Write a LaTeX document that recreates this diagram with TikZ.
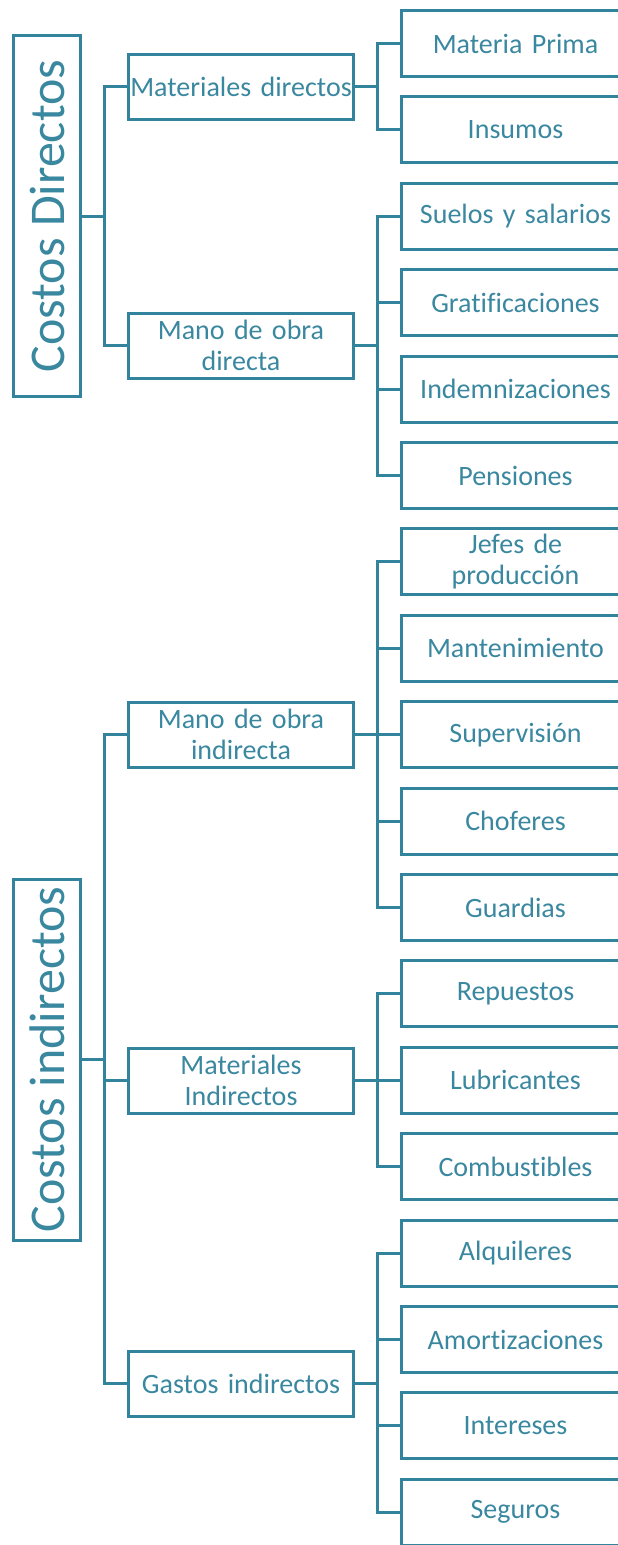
\documentclass[tikz,border=0pt]{standalone}
\usepackage{fontspec}
\setmainfont{Carlito}[Ligatures={NoCommon}]
\definecolor{tealc}{HTML}{31849B}
\definecolor{textc}{HTML}{3A87A0}
\tikzset{
  lvone/.style={draw=tealc, line width=3pt, rotate=90, minimum width=361pt, minimum height=67pt, inner sep=0pt, text=textc, font=\fontsize{50}{55}\selectfont},
  lvtwo/.style={draw=tealc, line width=3pt, minimum width=225pt, minimum height=65pt, inner sep=0pt, text width=222pt, align=center, text=textc, font=\fontsize{28}{31}\selectfont},
  lvthree/.style={draw=tealc, line width=3pt, minimum width=229pt, minimum height=66pt, inner sep=0pt, text width=226pt, align=center, text=textc, font=\fontsize{28}{31}\selectfont},
  conn/.style={draw=tealc, line width=3pt}
}
\begin{document}
\begin{tikzpicture}[x=1pt,y=-1pt]
\clip (0,0) rectangle (618,1545);
% level 1
\node[lvone] (cd) at (47,216) {Costos Directos};
\node[lvone] (ci) at (47,1059.5) {Costos indirectos};
% level 2
\node[lvtwo] (md) at (241,86.5) {Materiales directos};
\node[lvtwo] (mod) at (241,345.5) {Mano de obra\\directa};
\node[lvtwo] (moi) at (241,734.5) {Mano de obra\\indirecta};
\node[lvtwo] (mi) at (241,1080.5) {Materiales\\Indirectos};
\node[lvtwo] (gi) at (241,1383.5) {Gastos indirectos};
% level 3
\node[lvthree] (a1) at (515.5,43.5) {Materia Prima};
\node[lvthree] (a2) at (515.5,129.9) {Insumos};
\node[lvthree] (b1) at (515.5,216.3) {Suelos y salarios};
\node[lvthree] (b2) at (515.5,302.7) {Gratificaciones};
\node[lvthree] (b3) at (515.5,389.1) {Indemnizaciones};
\node[lvthree] (b4) at (515.5,475.5) {Pensiones};
\node[lvthree] (c1) at (515.5,561.9) {Jefes de\\producción};
\node[lvthree] (c2) at (515.5,648.3) {Mantenimiento};
\node[lvthree] (c3) at (515.5,734.7) {Supervisión};
\node[lvthree] (c4) at (515.5,821.1) {Choferes};
\node[lvthree] (c5) at (515.5,907.5) {Guardias};
\node[lvthree] (d1) at (515.5,993.9) {Repuestos};
\node[lvthree] (d2) at (515.5,1080.3) {Lubricantes};
\node[lvthree] (d3) at (515.5,1166.7) {Combustibles};
\node[lvthree] (e1) at (515.5,1253.1) {Alquileres};
\node[lvthree] (e2) at (515.5,1339.5) {Amortizaciones};
\node[lvthree] (e3) at (515.5,1425.9) {Intereses};
\node[lvthree] (e4) at (515.5,1512.3) {Seguros};
% level 1 -> level 2
\draw[conn] (cd.south) -- ++(24,0);
\draw[conn] (md.west) -- ++(-23,0) |- (mod.west);
\draw[conn] (ci.south) -- ++(24,0);
\draw[conn] (moi.west) -- ++(-23,0) |- (gi.west);
\draw[conn] (mi.west) -- ++(-23,0);
% level 2 -> level 3
\draw[conn] (md.east) -- ++(23,0);
\draw[conn] (a1.west) -- ++(-22,0) |- (a2.west);
\draw[conn] (mod.east) -- ++(23,0);
\draw[conn] (b1.west) -- ++(-22,0) |- (b4.west);
\draw[conn] (b2.west) -- ++(-22,0);
\draw[conn] (b3.west) -- ++(-22,0);
\draw[conn] (moi.east) -- ++(23,0);
\draw[conn] (c1.west) -- ++(-22,0) |- (c5.west);
\draw[conn] (c2.west) -- ++(-22,0);
\draw[conn] (c3.west) -- ++(-22,0);
\draw[conn] (c4.west) -- ++(-22,0);
\draw[conn] (mi.east) -- ++(23,0);
\draw[conn] (d1.west) -- ++(-22,0) |- (d3.west);
\draw[conn] (d2.west) -- ++(-22,0);
\draw[conn] (gi.east) -- ++(23,0);
\draw[conn] (e1.west) -- ++(-22,0) |- (e4.west);
\draw[conn] (e2.west) -- ++(-22,0);
\draw[conn] (e3.west) -- ++(-22,0);
\end{tikzpicture}
\end{document}
